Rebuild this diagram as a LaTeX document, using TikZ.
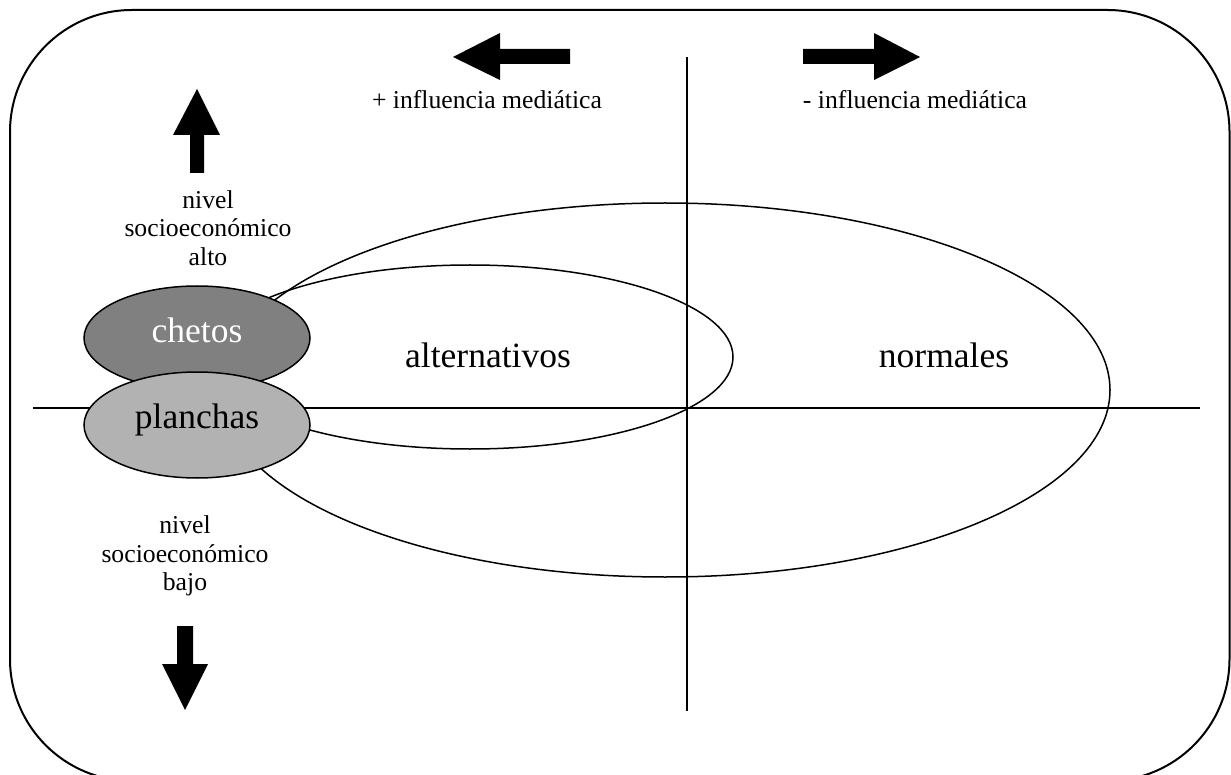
\documentclass[tikz,border=0pt]{standalone}
\usepackage{fontspec}
\setmainfont{Liberation Serif}
\usetikzlibrary{shapes.geometric}
\tikzset{
  thin line/.style={line width=1.5pt},
  outline ell/.style={ellipse, draw, line width=1.5pt, inner sep=0pt},
  group ell/.style={ellipse, draw, line width=1.5pt, inner sep=0pt, minimum width=226pt},
  small txt/.style={inner sep=0pt, font=\fontsize{25.7}{28.5}\selectfont},
  big txt/.style={inner sep=0pt, font=\fontsize{35.5}{40}\selectfont},
  block arrow/.style={fill=black, draw=none}
}
\begin{document}
\begin{tikzpicture}[x=1pt,y=-1pt]
\useasboundingbox (0,0) rectangle (1231,775);
% border
\draw[line width=2pt, rounded corners=122pt] (10,10) rectangle (1229.5,781);
% big and small ellipses
\node[outline ell, minimum width=890pt, minimum height=374pt] (normalesell) at (665,390) {};
\node[outline ell, minimum width=526pt, minimum height=184pt] (altell) at (470,357) {};
% axes
\coordinate (hl) at (33,408);
\coordinate (hr) at (1200,408);
\coordinate (vt) at (687,57);
\coordinate (vb) at (687,711);
\draw[thin line] (hl) -- (hr);
\draw[thin line] (vt) -- (vb);
% group ellipses
\node[group ell, fill=black!50, minimum height=104pt] (chetosell) at (197,338) {};
\node[group ell, fill=black!30, minimum height=106pt] (planchasell) at (197,425) {};
\node[big txt, anchor=base, text=white] (chetos) at (197,343) {chetos};
\node[big txt, anchor=base] (planchas) at (197,428) {planchas};
\node[big txt, anchor=base] (alternativos) at (488,367) {alternativos};
\node[big txt, anchor=base] (normales) at (944,367) {normales};
% arrows
\fill[block arrow] (197,89) -- (220,135) -- (204,135) -- (204,173) -- (190,173) -- (190,135) -- (173,135) -- cycle;
\fill[block arrow] (185,710) -- (208,664) -- (193,664) -- (193,626) -- (177,626) -- (177,664) -- (162,664) -- cycle;
\fill[block arrow] (453,57) -- (500,33) -- (500,49) -- (570,49) -- (570,64) -- (500,64) -- (500,80) -- cycle;
\fill[block arrow] (920,57) -- (874,33) -- (874,49) -- (803,49) -- (803,64) -- (874,64) -- (874,80) -- cycle;
% labels
\node[small txt, anchor=base] (masinf) at (487,109) {+ influencia mediática};
\node[small txt, anchor=base] (menosinf) at (915,109) {- influencia mediática};
\node[small txt, align=center] (alto) at (208,228) {nivel\\socioeconómico\\alto};
\node[small txt, align=center] (bajo) at (185,556) {nivel\\socioeconómico\\bajo};
\end{tikzpicture}
\end{document}
